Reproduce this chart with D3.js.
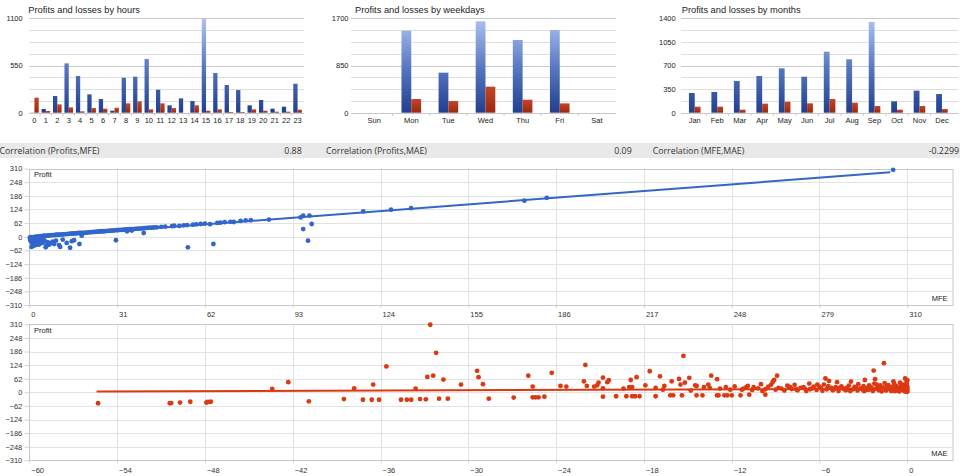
<!DOCTYPE html>
<html><head><meta charset="utf-8">
<script src="https://cdn.jsdelivr.net/npm/d3@7"></script>
<style>
body{margin:0;background:#fff;}
svg{display:block;}
text{font-family:"Liberation Sans",Arial,sans-serif;}
.corr{font-family:"Open Sans","Noto Sans",sans-serif;}
.axis path{display:none;}
</style></head><body>
<svg id="c" width="960" height="476"></svg>
<script>
// ---------- data ----------
const hours = ["0","1","2","3","4","5","6","7","8","9","10","11","12","13","14","15","16","17","18","19","20","21","22","23"];
const hourProfits = [2,43,195,575,427,214,160,23,408,420,626,268,86,167,136,1092,462,323,264,86,148,47,70,338];
const hourLosses  = [175,20,97,62,16,54,47,58,109,132,39,109,54,0,86,23,39,8,8,39,23,12,12,35];
const hourTicks = [0,550,1100];

const weekdays = ["Sun","Mon","Tue","Wed","Thu","Fri","Sat"];
const weekdayProfits = [0,1478,721,1646,1310,1490,0];
const weekdayLosses  = [0,246,210,469,234,168,0];
const weekdayTicks = [0,850,1700];

const months = ["Jan","Feb","Mar","Apr","May","Jun","Jul","Aug","Sep","Oct","Nov","Dec"];
const monthProfits = [292,307,470,544,658,534,905,792,1346,168,327,277];
const monthLosses  = [89,89,45,134,163,139,203,148,99,45,99,54];
const monthTicks = [0,350,700,1050,1400];

const corrLabels = ["Correlation (Profits,MFE)","Correlation (Profits,MAE)","Correlation (MFE,MAE)"];
const corrValues = ["0.88","0.09","-0.2299"];

const profitTicks = [-310,-248,-186,-124,-62,0,62,124,186,248,310];
const mfeTicks = [0,31,62,93,124,155,186,217,248,279,310];
const maeTicks = [-60,-54,-48,-42,-36,-30,-24,-18,-12,-6,0];

// [MFE, Profit]
const mfeProfitPoints = [
[0.2,-4],[0.3,-10],[0.4,-16],[0.5,-2],[0.6,-22],[0.7,-7],[0.8,-46],[0.9,-13],[1.0,-27],[1.1,-4],[1.2,-19],[1.3,-35],[1.4,-9],[1.5,-41],[1.6,-24],[1.7,-1],[1.8,-15],[1.9,-30],[2.0,-6],[2.1,-21],[2.2,-38],[2.3,-11],[2.4,-26],[2.5,0],[2.6,-17],[2.7,-33],[2.8,-8],[2.9,-23],[3.0,1],[3.1,-29],[3.2,-13],[3.3,-36],[3.4,-4],[3.5,-19],[3.6,2],[3.7,-26],[3.8,-10],[3.9,-31],[4.0,3],[4.1,-16],[4.3,-22],[4.4,3],[4.6,-8],[4.8,-28],[4.9,4],[5.1,-14],[5.3,5],[5.5,-20],
[5.8,-48],[6.0,-42],[6.2,5],[6.5,-25],[6.7,6],[7.0,-36],[7.2,6],[7.6,-30],[7.8,7],[8.2,-22],[8.4,7],[8.8,-33],[9.0,8],[9.4,-18],[9.6,9],[10.1,9],[10.5,-38],[10.7,10],[10.9,-46],[11.2,10],[11.8,-13],[11.7,11],[12.2,11],[12.8,12],[13.2,-28],[13.3,12],[13.9,13],[14.4,-50],[14.5,14],[15.0,-20],[15.1,14],[15.6,15],[15.8,-16],[16.2,15],[16.8,16],[17.4,17],[17.7,-33],[18.0,17],[18.5,5],[18.6,18],[19.2,18],[19.8,19],
[20.4,19],[21.0,20],[21.6,21],[22.2,21],[22.8,22],[23.4,22],[24.0,23],[24.6,24],[25.2,24],[25.8,25],[26.4,25],[27.0,26],[27.6,27],[28.2,27],[28.8,28],[29.4,28],[30.0,29],[30.6,-16],[30.7,30],[31.4,30],[32.0,31],[32.7,31],[33.4,32],[34.0,33],[34.5,25],[34.7,33],[35.4,34],[36.0,35],[36.2,28],[36.8,35],[37.5,36],[38.2,37],[39.0,37],[39.8,38],[40.4,17],[40.6,39],[41.4,40],[42.3,41],[43.1,41],[44.0,42],[45.0,43],[46.6,45],[48.0,46],[50.4,48],[51.2,50],[53.0,49],[54.5,52],[55.7,53],[56.0,-48],[57.8,55],[59.0,56],[60.5,58],[62.0,60],[63.8,57],[65.0,-33],[66.4,63],[67.5,64],[69.0,66],[71.0,68],[72.2,67],[74.6,72],[76.4,74],[78.2,75],[84.6,78],
[95.8,88],[96.7,96],[98.9,96],[99.7,58],[96.7,35],[98.4,-18],[117.9,115],[127.7,123],[134.8,130],[174.8,164],[182.7,177],[305,304]
];
const mfeTrend = [[0,-4.3],[304,292.7]];

// [MAE, Profit]
const maeProfitPoints = [
[-55.3,-50],[-50.4,-50],[-50.3,-49],[-49.7,-47],[-49.0,-43],[-47.9,-47],[-47.8,-44],[-47.6,-43],[-43.4,15],[-42.3,46],[-40.9,-41],[-38.5,-31],[-37.8,18],[-37.2,-34],[-36.6,-34],[-36.5,35],[-36.1,-34],[-35.6,118],[-34.6,-34],[-34.2,-34],[-33.9,-34],[-33.6,17],[-33.3,-31],[-32.9,-32],[-32.8,70],[-32.6,308],[-32.4,76],[-32.2,180],[-32.0,-29],[-31.7,58],[-31.4,-29],[-30.5,35],[-29.4,98],[-29.3,69],
[-29.0,37],[-28.6,-29],[-26.9,-24],[-25.9,76],[-25.6,26],[-25.6,-23],[-25.4,-23],[-25.2,-23],[-24.8,-20],[-24.3,89],[-23.7,29],[-23.3,26],[-22.1,50],[-22.0,125],[-21.9,29],[-21.4,26],[-21.1,44],[-21.2,32],[-20.8,18],[-20.8,-20],[-20.8,67],[-20.5,46],[-20.4,55],[-19.9,-18],[-19.4,17],[-19.2,-18],[-19.0,24],[-18.9,56],[-18.8,-18],[-18.6,-18],[-18.3,-18],[-18.8,24],[-18.5,69],[-17.9,32],[-17.6,96],[-17.2,20],[-17.2,-18],[-16.9,73],[-16.7,12],[-16.6,29],[-16.2,-14],[-16.0,-14],[-16.1,50],[-15.6,61],[-15.4,-14],[-15.5,35],[-15.3,166],[-15.2,44],[-14.9,66],[-14.8,8],[-14.5,32],[-14.4,-14],[-14.0,-14],[-14.4,29],[-13.9,24],[-13.6,35],[-13.5,20],[-13.4,76],[-13.0,60],[-13.0,-14],[-12.9,-14],[-12.8,17],[-12.5,-14],[-12.3,-14],[-12.4,24],[-12.0,-14],[-11.8,27],[-12.1,12],[-11.4,-14],[-11.3,12],[-11.2,17],[-11.0,23],[-10.9,29],[-10.8,-11],[-10.5,23],[-10.0,37],[-9.7,-11],[-9.7,14],[-9.5,26],[-9.3,35],[-9.2,47],[-9.1,56],[-8.9,76],[-8.6,17],[-8.2,30],[-8.1,26],[-8.0,23],[-7.7,34],[-7.6,14],[-7.3,20],[-7.0,17],[-6.7,40],[-6.65,14],[-6.5,18],[-6.4,26],[-6.15,35],[-6.0,26],[-5.7,35],[-5.6,63],[-5.35,52],[-5.5,14],[-5.2,20],[-5.0,14],[-4.8,46],[-4.65,20],[-4.5,27],[-4.3,14],[-4.15,20],[-3.85,49],[-3.7,14],[-3.5,20],[-3.35,37],[-3.1,14],[-2.9,56],[-2.8,20],[-2.55,14],[-2.3,99],[-2.2,60],[-2.1,35],[-2.0,26],[-1.9,14],[-1.6,133],[-1.5,20],[-1.4,26],[-1.2,14],[-0.95,50],[-0.8,20],[-0.6,14],[-0.45,26],[-0.3,35],[-0.15,63],[-0.05,47],[0,20],[0,8],[-0.1,5],
[-10.6,10],[-10.2,18],[-9.9,6],[-9.0,12],[-8.8,20],[-8.4,8],[-7.9,15],[-7.5,9],[-7.1,24],[-6.9,6],[-6.2,11],[-5.9,19],[-5.8,7],[-5.4,28],[-5.1,9],[-4.9,24],[-4.7,6],[-4.4,17],[-4.2,9],[-4.0,30],[-3.9,6],[-3.6,25],[-3.4,8],[-3.2,18],[-3.0,28],[-2.95,5],[-2.7,11],[-2.6,32],[-2.45,22],[-2.35,6],[-2.25,40],[-2.15,16],[-1.95,9],[-1.85,31],[-1.75,4],[-1.7,22],[-1.55,42],[-1.45,8],[-1.35,17],[-1.3,33],[-1.1,6],[-1.05,24],[-1.0,11],[-0.9,38],[-0.85,5],[-0.75,29],[-0.7,9],[-0.65,19],[-0.55,4],[-0.5,44],[-0.4,12],[-0.35,22],[-0.25,7],[-0.2,16],[-0.15,28],[-0.12,3],[-0.08,11],[-0.04,38],[-0.02,15],[0,2],[0,26],[0,55]
];
const maeTrend = [[-55.4,4],[0,16]];

// ---------- drawing ----------
const svg = d3.select("#c");
const defs = svg.append("defs");

function barChart(o){
  const g = svg.append("g");
  const y = d3.scaleLinear().domain([0,o.max]).range([112.7,18.3]);
  const x = d3.scaleBand().domain(o.cats).range([o.catStart,o.catEnd]);
  const gid = "bg"+o.id, rid = "rg"+o.id;
  const bg = defs.append("linearGradient").attr("id",gid).attr("gradientUnits","userSpaceOnUse")
    .attr("x1",0).attr("x2",0).attr("y1",y(o.max)).attr("y2",y(0));
  bg.append("stop").attr("offset",0).attr("stop-color","#adc3ef");
  bg.append("stop").attr("offset",0.55).attr("stop-color","#5474c0");
  bg.append("stop").attr("offset",1).attr("stop-color","#213f8c");
  const rg = defs.append("linearGradient").attr("id",rid).attr("x1",0).attr("x2",0).attr("y1",0).attr("y2",1);
  rg.append("stop").attr("offset",0).attr("stop-color","#c44526");
  rg.append("stop").attr("offset",1).attr("stop-color","#9a2811");
  // gridlines (8 intervals)
  const grid = d3.range(0,9).map(i=>o.max*i/8);
  g.selectAll("line.grid").data(grid).join("line")
    .attr("x1",o.gridStart).attr("x2",o.gridEnd)
    .attr("y1",d=>Math.round(y(d))+0.5).attr("y2",d=>Math.round(y(d))+0.5)
    .attr("stroke",(d,i)=> i%4===0 ? "#c8c8c8" : "#dedede").attr("stroke-width",1);
  // category tick marks
  g.selectAll("line.ct").data(o.cats.slice(1)).join("line")
    .attr("x1",d=>x(d)).attr("x2",d=>x(d)).attr("y1",113).attr("y2",116)
    .attr("stroke","#c8c8c8");
  // bars
  g.selectAll("rect.p").data(o.cats).join("rect")
    .attr("x",d=>x(d)+x.bandwidth()/2-o.bw).attr("width",o.bw)
    .attr("y",(d,i)=>y(o.profits[i])).attr("height",(d,i)=>y(0)-y(o.profits[i]))
    .attr("fill","url(#"+gid+")");
  g.selectAll("rect.l").data(o.cats).join("rect")
    .attr("x",d=>x(d)+x.bandwidth()/2).attr("width",o.bw)
    .attr("y",(d,i)=>y(o.losses[i])).attr("height",(d,i)=>y(0)-y(o.losses[i]))
    .attr("fill","url(#"+rid+")");
  // axes
  const ya = g.append("g").attr("class","axis").attr("transform",`translate(${o.labelRight},0)`)
    .call(d3.axisLeft(y).tickValues(o.ticks).tickFormat(d3.format("d")).tickSize(0).tickPadding(0));
  ya.selectAll("text").attr("font-size","7.5px").attr("fill","#222").attr("font-family","Liberation Sans, Arial, sans-serif");
  const xa = g.append("g").attr("class","axis").attr("transform","translate(0,112.7)")
    .call(d3.axisBottom(x).tickSize(0).tickPadding(5));
  xa.selectAll("text").attr("font-size","7.5px").attr("fill","#222").attr("font-family","Liberation Sans, Arial, sans-serif");
  g.append("text").attr("x",o.titleX).attr("y",13).attr("font-size","9.3px").attr("fill","#222").text(o.title);
}

barChart({id:"h",title:"Profits and losses by hours",cats:hours,profits:hourProfits,losses:hourLosses,max:1100,ticks:hourTicks,
  catStart:28.7,catEnd:303.3,gridStart:29.3,gridEnd:304,labelRight:22.7,titleX:28.3,bw:4.3});
barChart({id:"w",title:"Profits and losses by weekdays",cats:weekdays,profits:weekdayProfits,losses:weekdayLosses,max:1700,ticks:weekdayTicks,
  catStart:355.6,catEnd:615.4,gridStart:351,gridEnd:616,labelRight:348.5,titleX:355,bw:9.8});
barChart({id:"m",title:"Profits and losses by months",cats:months,profits:monthProfits,losses:monthLosses,max:1400,ticks:monthTicks,
  catStart:683.5,catEnd:953.2,gridStart:681,gridEnd:958.3,labelRight:675.7,titleX:681.7,bw:5.8});

// correlation band
svg.append("rect").attr("x",0).attr("y",143).attr("width",960).attr("height",15).attr("fill","#e9e9e9");
const corrStart = [-0.5,326,652.7], corrEnd = [301.7,631.7,959];
corrLabels.forEach((l,i)=>{
  svg.append("text").attr("class","corr").attr("x",corrStart[i]).attr("y",154.2).attr("font-size","8.8px").attr("fill","#333").text(l);
  svg.append("text").attr("class","corr").attr("x",corrEnd[i]).attr("y",154.2).attr("text-anchor","end").attr("font-size","8.8px").attr("fill","#333").text(corrValues[i]);
});

function scatter(o){
  const g = svg.append("g");
  const x = d3.scaleLinear().domain(o.xDomain).range([29.3,907.3]);
  const y = d3.scaleLinear().domain([-310,310]).range([o.yBot,o.yTop]);
  const right = 953;
  // horizontal gridlines + y labels
  const ya = g.append("g").attr("class","axis").attr("transform","translate(29.3,0)")
    .call(d3.axisLeft(y).tickValues(profitTicks).tickSize(5).tickPadding(2));
  ya.selectAll("line").attr("stroke","#d6d6d6");
  ya.selectAll("text").attr("font-size","7.5px").attr("fill","#333");
  g.selectAll("line.hg").data(profitTicks).join("line")
    .attr("x1",29.3).attr("x2",right).attr("y1",d=>Math.round(y(d))+0.5).attr("y2",d=>Math.round(y(d))+0.5)
    .attr("stroke","#e2e2e2");
  // vertical gridlines + x labels
  const xa = g.append("g").attr("class","axis").attr("transform",`translate(0,${o.yBot})`)
    .call(d3.axisBottom(x).tickValues(o.xTicks).tickSize(3).tickPadding(4));
  xa.selectAll("line").attr("stroke","#d6d6d6");
  xa.selectAll("text").attr("font-size","7.5px").attr("fill","#333").attr("text-anchor","start").attr("dx","1.5");
  g.selectAll("line.vg").data(o.xTicks).join("line")
    .attr("x1",d=>Math.round(x(d))+0.5).attr("x2",d=>Math.round(x(d))+0.5).attr("y1",o.yTop).attr("y2",o.yBot)
    .attr("stroke","#e2e2e2");
  // border
  g.append("rect").attr("x",29.5).attr("y",Math.round(o.yTop)+0.5).attr("width",right-29.5).attr("height",Math.round(o.yBot)-Math.round(o.yTop))
    .attr("fill","none").attr("stroke","#c8c8c8");
  // trend line
  g.append("path").datum(o.trend).attr("d",d3.line().x(d=>x(d[0])).y(d=>y(d[1])))
    .attr("stroke",o.color).attr("stroke-width",2).attr("fill","none");
  // points
  g.selectAll("circle").data(o.data).join("circle")
    .attr("cx",d=>x(d[0])).attr("cy",d=>y(d[1])).attr("r",2.4).attr("fill",o.color);
  g.append("text").attr("x",34).attr("y",o.yTop+8.5).attr("font-size","7.5px").attr("fill","#222").text("Profit");
  g.append("text").attr("x",right-5.5).attr("y",o.yBot-4).attr("text-anchor","end").attr("font-size","7.5px").attr("fill","#222").text(o.xLabel);
}

scatter({xDomain:[0,310],xTicks:mfeTicks,yTop:168.5,yBot:305,data:mfeProfitPoints,trend:mfeTrend,color:"#3366cc",xLabel:"MFE"});
scatter({xDomain:[-60,0],xTicks:maeTicks,yTop:324.3,yBot:460.3,data:maeProfitPoints,trend:maeTrend,color:"#dc3912",xLabel:"MAE"});
</script>
</body></html>
